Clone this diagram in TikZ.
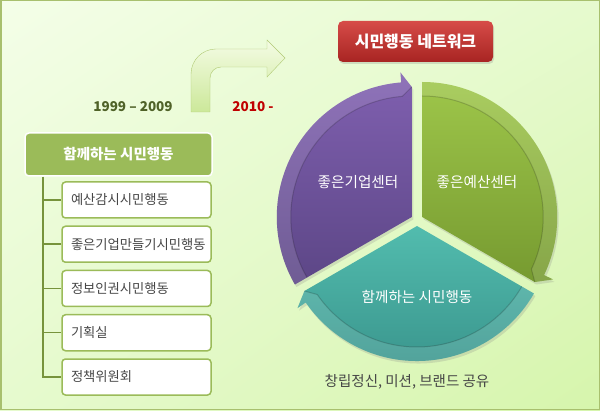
\documentclass[tikz,border=0pt]{standalone}
\usepackage{fontspec}
\setmainfont{Noto Sans CJK KR}
\usepackage{tikz}
\usetikzlibrary{positioning,shadows,shadings}
\definecolor{mybgtop}{RGB}{244,254,232}
\definecolor{mybgmid}{RGB}{230,250,206}
\definecolor{mybgbot}{RGB}{214,245,172}
\definecolor{myframe}{RGB}{168,192,110}
\definecolor{myolive}{RGB}{155,187,89}
\definecolor{mydarkolive}{RGB}{119,147,60}
\definecolor{myyears}{RGB}{79,98,40}
\definecolor{myred}{RGB}{192,0,0}
\definecolor{myredtop}{RGB}{214,76,72}
\definecolor{myredbot}{RGB}{168,36,34}
\definecolor{mytext}{RGB}{70,70,70}
\definecolor{mypurpletop}{RGB}{128,96,176}
\definecolor{mypurplebot}{RGB}{92,70,134}
\definecolor{mygreentop}{RGB}{158,198,74}
\definecolor{mygreenbot}{RGB}{118,154,48}
\definecolor{mytealtop}{RGB}{82,188,174}
\definecolor{mytealbot}{RGB}{56,146,138}
\definecolor{myarrowtop}{RGB}{244,252,228}
\definecolor{myarrowbot}{RGB}{204,232,154}
\definecolor{myarrowline}{RGB}{176,202,116}

\begin{document}
\begin{tikzpicture}[x=1pt,y=1pt,
        hdrbox/.style={draw=white,line width=1.5pt,fill=myolive,rounded corners=4pt,minimum width=187pt,minimum height=43pt,inner sep=0pt,text=white,font=\fontsize{14.5}{16}\selectfont\bfseries},
        itembox/.style={draw=myolive,line width=1.5pt,fill=white,rounded corners=3.5pt,minimum height=36pt,inner xsep=9pt,inner ysep=0pt,text width=131pt,align=left,text=mytext,font=\fontsize{13.3}{15}\selectfont},
        treeline/.style={draw=mydarkolive,line width=1.5pt},
        titlebox/.style={rounded corners=5pt,top color=myredtop,bottom color=myredbot,minimum width=155pt,minimum height=41pt,inner sep=0pt,text=white,font=\fontsize{16}{18}\selectfont\bfseries,drop shadow={opacity=.25,shadow xshift=1pt,shadow yshift=-2pt}},
        segment/.style={drop shadow={opacity=.22,shadow xshift=1.5pt,shadow yshift=-2.5pt}},
        seglabel/.style={text=white,font=\fontsize{14.6}{17}\selectfont},
        years/.style={font=\fontsize{13.5}{16}\selectfont\bfseries}]
        \useasboundingbox (0,0) rectangle (600,410);
        \shade[upper left=mybgtop,upper right=mybgmid,lower left=mybgmid,lower right=mybgbot] (0,0) rectangle (600,410);
        \draw[myframe,line width=1.5pt] (0.75,0.75) rectangle (599.25,409.25);

        \node[hdrbox] (hdr) at (118.5,255.5) {함께하는 시민행동};
        \node[itembox] (item1) at (136.5,210) {예산감시시민행동};
        \node[itembox,below=6.75pt of item1] (item2) {좋은기업만들기시민행동};
        \node[itembox,below=6.75pt of item2] (item3) {정보인권시민행동};
        \node[itembox,below=6.75pt of item3] (item4) {기획실};
        \node[itembox,below=6.75pt of item4] (item5) {정책위원회};
        \coordinate (trunk) at ([xshift=18.5pt]hdr.south west);
        \draw[treeline] (trunk) |- (item5.west);
        \foreach \i in {1,...,4}
            \draw[treeline] (item\i.west -| trunk) -- (item\i.west);

        \node[years,text=myyears] (from) at (133,303) {1999 – 2009};
        \node[years,text=myred] (to) at (253,303) {2010 -};
        \draw[myarrowline,top color=myarrowtop,bottom color=myarrowbot] (191,298) -- (191,336) arc[start angle=180,end angle=90,radius=25] -- (267,361) -- (267,370) -- (285,352) -- (267,333) -- (267,343) -- (221,343) arc[start angle=90,end angle=180,radius=11] -- (210,298) -- cycle;

        \node[titlebox] (title) at (415.5,368.5) {시민행동 네트워크};

        \foreach \a/\s/\e/\ct/\cb in {150/210/90/mypurpletop/mypurplebot,30/90/-30/mygreentop/mygreenbot,-90/-30/-150/mytealtop/mytealbot}{
            \begin{scope}[shift={(417,190)},shift={(\a:6)}]
                \path[segment,top color=\ct,bottom color=\cb] (0,0) -- (\s:135) arc[start angle=\s,end angle=\e+4.5,radius=135] -- (\e+4.5:145) -- (\e:130) -- cycle;
                \fill[white,opacity=.12] (\s:135) arc[start angle=\s,end angle=\e+4.5,radius=135] -- (\e+4.5:145) -- (\e:130) -- (\e+4.5:121) arc[start angle=\e+4.5,end angle=\s,radius=121] -- cycle;
                \draw[black,opacity=.18,line width=1pt] (\s:121) arc[start angle=\s,end angle=\e+4.5,radius=121] -- (\e:130);
            \end{scope}
        }
        \node[seglabel] (corp) at (358,228) {좋은기업센터};
        \node[seglabel] (budget) at (477,228) {좋은예산센터};
        \node[seglabel] (together) at (417,113) {함께하는 시민행동};
        \node[text=mytext,font=\fontsize{14.5}{17}\selectfont] (share) at (407,28) {창립정신, 미션, 브랜드 공유};
    \end{tikzpicture}
\end{document}
